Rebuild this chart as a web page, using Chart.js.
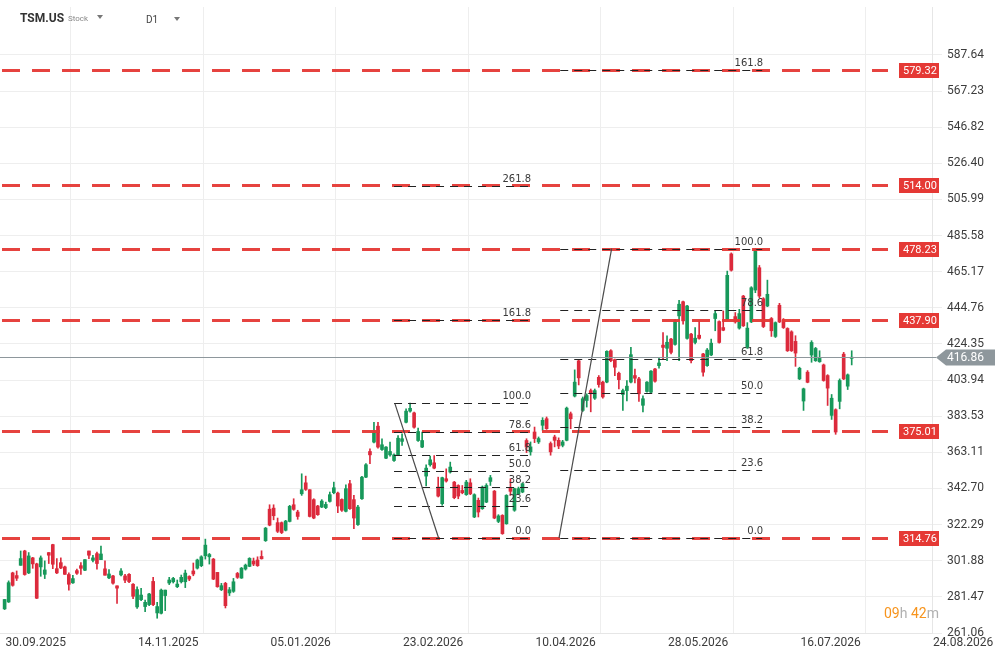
<!DOCTYPE html>
<html>
<head>
<meta charset="utf-8">
<title>TSM.US D1</title>
<script src="https://cdn.jsdelivr.net/npm/chart.js@4.4.1/dist/chart.umd.min.js"></script>
<style>
  html, body { margin: 0; padding: 0; background: #fff; }
  #wrap { position: relative; width: 1007px; height: 659px; overflow: hidden; }
  #chart { position: absolute; left: 0; top: 0; }
  .sym { position: absolute; left: 20px; top: 12px; font: bold 12px/12px Roboto, sans-serif; color: #333; white-space: nowrap; }
  .sym .type { font-weight: normal; font-size: 8px; color: #888; margin-left: 4px; position: relative; top: -1px; }
  .tf { position: absolute; left: 146px; top: 15px; font: 10px/10px Roboto, sans-serif; color: #444; }
  .tri { position: absolute; width: 0; height: 0; border-left: 3.5px solid transparent; border-right: 3.5px solid transparent; border-top: 4px solid #777; }
  .timer { position: absolute; left: 884px; top: 606px; font: 14px/14px Roboto, sans-serif; white-space: nowrap; }
  .timer .o { color: #f7941d; }
  .timer .g { color: #b0b0b0; }
</style>
</head>
<body>
<div id="wrap">
  <canvas id="chart" width="1007" height="659"></canvas>
  <div class="sym">TSM.US<span class="type">Stock</span></div>
  <div class="tri" style="left:97px;top:15px"></div>
  <div class="tf">D1</div>
  <div class="tri" style="left:174px;top:17px"></div>
  <div class="timer"><span class="o">09</span><span class="g">h</span> <span class="o">42</span><span class="g">m</span></div>
</div>
<script>
// daily candles, one per trading day
const opens = [
  274.7, 278.6, 295.0, 293.5, 299.3, 307.4, 295.0, 303.5, 300.1, 298.4,
  294.2, 306.5, 311.0, 297.4, 300.8, 298.4, 294.1, 289.4, 296.3, 299.1,
  296.5, 307.4, 302.1, 305.9, 302.5, 297.3, 292.2, 293.3, 287.7, 293.9,
  293.3, 294.2, 288.6, 275.8, 279.9, 276.0, 277.1, 290.2, 272.4, 272.2,
  282.2, 289.3, 290.0, 287.2, 290.0, 290.0, 293.0, 296.1, 297.7, 299.1,
  304.7, 304.1, 302.8, 295.3, 285.5, 289.1, 283.7, 284.6, 294.7, 292.1,
  297.2, 298.7, 301.7, 302.3, 304.3, 313.2, 331.0, 331.6, 323.4, 323.4,
  319.1, 324.1, 333.5, 329.4, 339.7, 345.9, 342.0, 336.4, 332.8, 332.2,
  331.9, 335.4, 340.3, 340.1, 336.5, 329.8, 345.4, 336.4, 322.3, 336.9,
  349.1, 363.6, 368.9, 377.9, 364.7, 359.8, 361.7, 358.5, 361.7, 369.3,
  380.1, 386.4, 385.4, 369.8, 366.1, 349.7, 356.1, 357.2, 343.5, 334.1,
  348.2, 352.0, 346.3, 344.4, 341.6, 339.2, 345.9, 326.6, 336.0, 331.3,
  335.0, 346.7, 341.2, 324.1, 327.5, 322.8, 342.9, 330.4, 339.7, 340.7,
  369.8, 363.4, 374.6, 369.0, 378.4, 382.1, 368.1, 371.8, 369.9, 367.1,
  369.9, 384.9, 394.9, 414.8, 386.8, 392.4, 398.0, 393.7, 405.5, 402.8,
  402.8, 420.5, 415.5, 407.8, 395.8, 398.0, 402.8, 406.5, 404.6, 389.7,
  397.5, 397.1, 410.2, 412.1, 423.7, 421.9, 427.1, 424.1, 440.2, 448.2,
  427.5, 429.9, 425.2, 429.3, 418.7, 412.1, 418.1, 438.7, 437.0, 433.6,
  438.3, 475.2, 439.8, 433.3, 451.4, 422.4, 436.8, 454.8, 467.4, 449.9,
  445.8, 438.7, 428.6, 446.2, 437.9, 433.1, 431.2, 425.8, 404.6, 392.1,
  408.4, 418.1, 414.9, 414.3, 412.5, 406.5, 384.0, 387.2, 391.9, 418.6,
  400.5, 416.2
];
const highs = [
  280.0, 290.5, 295.4, 296.1, 307.4, 307.8, 306.5, 303.8, 300.5, 304.6,
  301.8, 306.5, 311.2, 303.1, 303.5, 298.8, 295.0, 293.7, 297.1, 300.8,
  302.5, 307.4, 305.0, 306.8, 310.2, 301.8, 296.9, 293.7, 287.7, 297.4,
  294.2, 294.6, 289.0, 287.1, 286.3, 279.7, 283.5, 292.5, 278.4, 285.9,
  285.3, 292.5, 292.5, 291.0, 293.8, 296.6, 293.4, 300.6, 302.8, 304.7,
  314.1, 306.0, 303.2, 295.3, 289.1, 289.7, 286.8, 291.9, 295.3, 298.1,
  300.0, 303.6, 303.4, 304.1, 307.5, 320.7, 333.5, 333.5, 326.0, 323.8,
  324.7, 333.2, 336.9, 330.4, 351.0, 349.7, 342.0, 336.9, 333.2, 336.4,
  335.0, 340.7, 346.3, 340.7, 336.9, 344.8, 347.3, 338.8, 333.2, 349.5,
  356.7, 365.1, 380.1, 380.1, 370.7, 366.4, 368.9, 362.3, 372.6, 373.6,
  387.7, 390.9, 385.8, 376.8, 374.5, 356.1, 361.0, 361.3, 349.1, 349.1,
  353.8, 357.6, 346.7, 344.8, 344.4, 347.3, 348.2, 339.7, 337.3, 344.1,
  345.4, 350.1, 341.6, 327.9, 327.9, 339.2, 348.2, 342.9, 343.5, 345.8,
  370.8, 369.0, 377.4, 371.8, 382.7, 383.1, 369.0, 372.8, 371.3, 369.9,
  388.7, 385.9, 409.7, 415.2, 394.4, 396.2, 398.9, 398.9, 406.5, 403.3,
  420.5, 421.1, 415.8, 408.4, 398.9, 403.7, 422.4, 410.2, 405.5, 395.0,
  403.1, 409.3, 410.6, 416.8, 430.8, 429.0, 427.5, 438.3, 449.0, 448.6,
  446.2, 430.3, 433.6, 437.4, 419.0, 421.8, 427.1, 443.0, 437.4, 443.0,
  465.5, 475.8, 442.1, 443.9, 451.8, 436.4, 456.7, 478.2, 468.7, 450.5,
  460.4, 439.3, 436.8, 447.3, 438.7, 433.5, 431.8, 429.0, 411.2, 399.4,
  409.3, 426.2, 422.4, 420.5, 413.0, 407.0, 395.8, 387.7, 404.6, 419.6,
  407.4, 420.5
];
const lows = [
  274.3, 278.3, 287.5, 290.7, 299.3, 293.7, 294.6, 297.6, 280.5, 293.1,
  291.8, 300.3, 297.4, 294.6, 297.4, 294.2, 285.2, 289.0, 294.2, 294.2,
  296.3, 303.1, 301.2, 297.1, 302.5, 293.7, 291.8, 288.6, 277.7, 293.3,
  289.5, 289.5, 280.5, 274.9, 279.3, 273.1, 276.5, 276.5, 269.4, 271.8,
  273.7, 288.4, 289.3, 286.7, 289.3, 286.7, 290.6, 293.4, 297.2, 298.5,
  302.8, 300.0, 291.2, 286.9, 285.0, 275.2, 282.2, 284.0, 291.9, 291.9,
  296.6, 298.5, 299.1, 298.7, 302.8, 312.8, 321.6, 325.0, 317.8, 317.2,
  318.7, 323.8, 330.4, 325.3, 338.8, 341.6, 326.6, 325.6, 327.5, 331.9,
  331.3, 335.0, 339.7, 329.0, 329.8, 329.4, 330.9, 320.0, 321.9, 336.5,
  348.8, 356.7, 368.5, 365.5, 364.2, 359.5, 361.0, 358.0, 361.3, 367.0,
  379.8, 385.8, 376.8, 369.3, 365.7, 344.1, 355.3, 353.8, 337.9, 333.2,
  346.3, 351.4, 336.9, 336.9, 339.7, 338.8, 339.2, 326.2, 326.6, 330.9,
  334.7, 344.4, 325.6, 323.4, 316.8, 322.5, 338.8, 329.8, 339.2, 340.3,
  363.0, 361.5, 368.6, 368.1, 375.6, 376.1, 361.5, 366.2, 365.2, 366.2,
  369.6, 376.5, 394.4, 401.2, 386.2, 388.7, 386.0, 393.0, 399.9, 393.7,
  402.4, 414.3, 406.5, 399.0, 386.8, 392.1, 402.4, 402.4, 391.9, 385.9,
  397.1, 396.7, 402.8, 410.6, 416.0, 414.9, 418.7, 423.7, 414.9, 435.5,
  427.1, 413.6, 424.3, 427.1, 406.1, 411.7, 417.7, 431.8, 424.8, 431.8,
  438.0, 465.5, 436.1, 432.7, 434.2, 421.8, 436.4, 453.3, 450.5, 433.6,
  445.4, 428.6, 428.0, 436.4, 433.1, 420.1, 420.1, 411.7, 404.2, 386.8,
  402.4, 414.0, 414.5, 414.0, 403.3, 389.6, 381.7, 373.3, 387.7, 404.2,
  398.6, 412.5
];
const closes = [
  280.0, 289.5, 288.0, 292.0, 303.1, 294.1, 304.6, 300.1, 280.7, 303.5,
  296.7, 305.0, 299.9, 295.0, 297.8, 294.2, 288.6, 291.8, 294.8, 297.6,
  302.5, 305.0, 303.5, 300.3, 305.7, 293.7, 294.4, 289.2, 286.4, 296.1,
  290.9, 290.1, 281.8, 285.6, 282.5, 278.4, 283.1, 277.1, 276.0, 285.3,
  285.3, 291.0, 291.9, 288.7, 292.5, 294.9, 291.5, 294.4, 302.3, 304.1,
  310.7, 305.4, 291.5, 287.2, 287.8, 276.5, 285.5, 290.0, 292.5, 297.7,
  299.4, 303.2, 300.0, 299.1, 303.0, 320.3, 322.0, 327.3, 318.5, 317.8,
  324.3, 332.6, 330.9, 326.9, 342.0, 342.2, 326.9, 326.0, 327.9, 335.6,
  333.7, 339.2, 343.1, 332.8, 330.4, 342.6, 331.3, 326.0, 332.2, 349.1,
  356.1, 361.7, 374.5, 366.1, 367.4, 366.1, 363.6, 361.7, 371.1, 370.8,
  386.4, 388.0, 377.3, 374.9, 369.8, 354.2, 358.9, 354.2, 338.4, 348.8,
  346.9, 354.8, 337.5, 338.4, 340.3, 346.3, 339.7, 339.2, 329.4, 343.5,
  344.4, 348.8, 326.0, 327.2, 317.2, 338.8, 341.1, 342.6, 342.6, 345.4,
  366.1, 366.2, 370.9, 370.9, 381.2, 376.5, 363.4, 369.9, 366.7, 369.0,
  388.1, 382.1, 402.8, 405.2, 393.4, 395.2, 396.2, 398.0, 401.4, 394.4,
  420.2, 414.9, 411.2, 404.2, 398.0, 400.5, 418.3, 405.0, 396.2, 393.4,
  402.8, 409.0, 403.3, 413.6, 422.4, 425.3, 419.6, 437.4, 446.8, 437.4,
  445.8, 414.9, 427.6, 427.5, 408.4, 420.9, 424.8, 441.5, 425.2, 432.1,
  463.1, 466.0, 436.8, 441.5, 434.6, 433.3, 456.1, 477.7, 451.4, 434.2,
  452.4, 431.8, 436.4, 436.8, 433.6, 420.5, 420.5, 419.2, 410.6, 399.0,
  402.7, 425.2, 421.8, 416.2, 403.7, 399.4, 393.7, 374.6, 403.7, 404.6,
  406.9, 416.86
];

// axis labels
const dateTicks = ['30.09.2025', '14.11.2025', '05.01.2026', '23.02.2026',
                   '10.04.2026', '28.05.2026', '16.07.2026', '24.08.2026'];
const dateTickIdx = [0, 33, 66, 99, 132, 165, 198, 231];
const priceTicks = [587.64, 567.23, 546.82, 526.40, 505.99, 485.58, 465.17, 444.76,
                    424.35, 403.94, 383.53, 363.11, 342.70, 322.29, 301.88, 281.47, 261.06];

// levels drawn on the chart
const lastPrice = 416.86;
const redLevels = [579.32, 514.00, 478.23, 437.90, 375.01, 314.76];
const fibA = { low: 314.76, high: 390.8, from: 97.0, to: 130.9,
               trend: [[97.2, 390.8], [108.1, 314.76]],
               levels: [0, 23.6, 38.2, 50, 61.8, 78.6, 100, 161.8, 261.8] };
const fibB = { low: 314.76, high: 478.23, from: 138.4, to: 188.7,
               trend: [[138.1, 314.76], [151.2, 478.23]],
               levels: [0, 23.6, 38.2, 50, 61.8, 78.6, 100, 161.8] };

const GREEN = '#17985a';
const RED = '#dc2a3c';

const candleColors = opens.map((o, i) => closes[i] >= o ? GREEN : RED);
const wicks = opens.map((o, i) => ({ x: i, y: [lows[i], highs[i]] }));
const bodies = opens.map((o, i) => ({ x: i, y: [Math.min(o, closes[i]), Math.max(o, closes[i])] }));

const overlay = {
  id: 'overlay',
  afterDatasetsDraw(chart) {
    const { ctx, chartArea: a, scales: { x, y } } = chart;
    ctx.save();

    // red dashed levels
    ctx.strokeStyle = 'rgba(229,57,53,0.95)';
    ctx.lineWidth = 3;
    ctx.setLineDash([18, 12]);
    redLevels.forEach(p => {
      const py = Math.round(y.getPixelForValue(p)) + 0.5;
      ctx.beginPath();
      ctx.moveTo(a.left + 2, py);
      ctx.lineTo(a.right - 44, py);
      ctx.stroke();
    });

    // fibonacci sets
    [fibA, fibB].forEach(f => {
      const x0 = x.getPixelForValue(f.from);
      const x1 = x.getPixelForValue(f.to);
      ctx.setLineDash([8, 6]);
      ctx.lineWidth = 1;
      ctx.strokeStyle = '#222';
      ctx.fillStyle = '#3a3a3a';
      ctx.font = '10px "DejaVu Sans"';
      ctx.textAlign = 'right';
      ctx.textBaseline = 'alphabetic';
      f.levels.forEach(lv => {
        const p = f.low + (f.high - f.low) * lv / 100;
        const py = Math.round(y.getPixelForValue(p)) + 0.5;
        ctx.beginPath();
        ctx.moveTo(x0, py);
        ctx.lineTo(x1, py);
        ctx.stroke();
        ctx.fillText(lv.toFixed(1), x1 + 1, py - 5);
      });
      ctx.setLineDash([]);
      ctx.strokeStyle = '#4a4a4a';
      ctx.lineWidth = 1.2;
      ctx.beginPath();
      ctx.moveTo(x.getPixelForValue(f.trend[0][0]), y.getPixelForValue(f.trend[0][1]));
      ctx.lineTo(x.getPixelForValue(f.trend[1][0]), y.getPixelForValue(f.trend[1][1]));
      ctx.stroke();
    });

    // last price line
    const lp = Math.round(y.getPixelForValue(lastPrice)) + 0.5;
    ctx.strokeStyle = '#8e979c';
    ctx.lineWidth = 1;
    ctx.beginPath();
    ctx.moveTo(a.left, lp);
    ctx.lineTo(a.right + 4, lp);
    ctx.stroke();
    ctx.restore();
  },
  afterDraw(chart) {
    const { ctx, chartArea: a, scales: { y } } = chart;
    ctx.save();
    ctx.font = '11px Roboto';
    ctx.textBaseline = 'middle';
    ctx.textAlign = 'left';
    redLevels.forEach(p => {
      const py = Math.round(y.getPixelForValue(p)) + 0.5;
      ctx.fillStyle = '#e53935';
      ctx.fillRect(a.right - 33, py - 7.5, 40, 15);
      ctx.save();
      ctx.beginPath();
      ctx.rect(a.right - 33, py - 8, 40, 16);
      ctx.clip();
      ctx.fillStyle = '#fff';
      ctx.fillText(p.toFixed(2), a.right - 29, py + 0.5);
      ctx.restore();
    });

    // last price tag
    const lp = Math.round(y.getPixelForValue(lastPrice)) + 0.5;
    const tx = a.right + 4;
    ctx.fillStyle = '#8e979c';
    ctx.beginPath();
    ctx.moveTo(tx, lp);
    ctx.lineTo(tx + 10, lp - 8);
    ctx.lineTo(tx + 59, lp - 8);
    ctx.lineTo(tx + 59, lp + 8);
    ctx.lineTo(tx + 10, lp + 8);
    ctx.closePath();
    ctx.fill();
    ctx.fillStyle = '#fff';
    ctx.font = '12px Roboto';
    ctx.fillText(lastPrice.toFixed(2), tx + 11, lp + 0.5);
    ctx.restore();
  }
};

new Chart(document.getElementById('chart'), {
  type: 'bar',
  data: {
    datasets: [
      { data: wicks, backgroundColor: candleColors, barThickness: 1, grouped: false, order: 2 },
      { data: bodies, backgroundColor: candleColors, barThickness: 3, grouped: false, minBarLength: 1, order: 1 }
    ]
  },
  options: {
    responsive: false,
    animation: false,
    devicePixelRatio: 1,
    layout: { padding: { top: 7, left: 0, right: 0, bottom: 0 } },
    plugins: { legend: { display: false }, tooltip: { enabled: false } },
    scales: {
      x: {
        type: 'linear',
        min: -1.15,
        max: 231,
        offset: false,
        afterBuildTicks: s => { s.ticks = dateTickIdx.map(v => ({ value: v })); },
        afterFit: s => { s.height = 26; s.paddingLeft = 0; s.paddingRight = 0; },
        grid: { color: '#eeeeee', drawTicks: false },
        border: { display: true, color: '#e6e6e6' },
        ticks: {
          align: 'start', padding: 3, maxRotation: 0, autoSkip: false, labelOffset: 1,
          color: '#3c3c3c', font: { family: 'Roboto', size: 12 },
          callback: (v, i) => dateTicks[i]
        }
      },
      y: {
        position: 'right',
        min: 261.06,
        max: 614.7,
        afterBuildTicks: s => { s.ticks = priceTicks.map(v => ({ value: v })); },
        afterFit: s => { s.width = 75; s.paddingTop = 0; s.paddingBottom = 0; },
        grid: { color: '#eeeeee', drawTicks: true, tickLength: 10, tickColor: '#eeeeee' },
        border: { display: true, color: '#e6e6e6' },
        ticks: {
          padding: 5, color: '#3c3c3c', font: { family: 'Roboto', size: 12 },
          callback: v => v.toFixed(2)
        }
      }
    }
  },
  plugins: [overlay]
});
</script>
</body>
</html>
